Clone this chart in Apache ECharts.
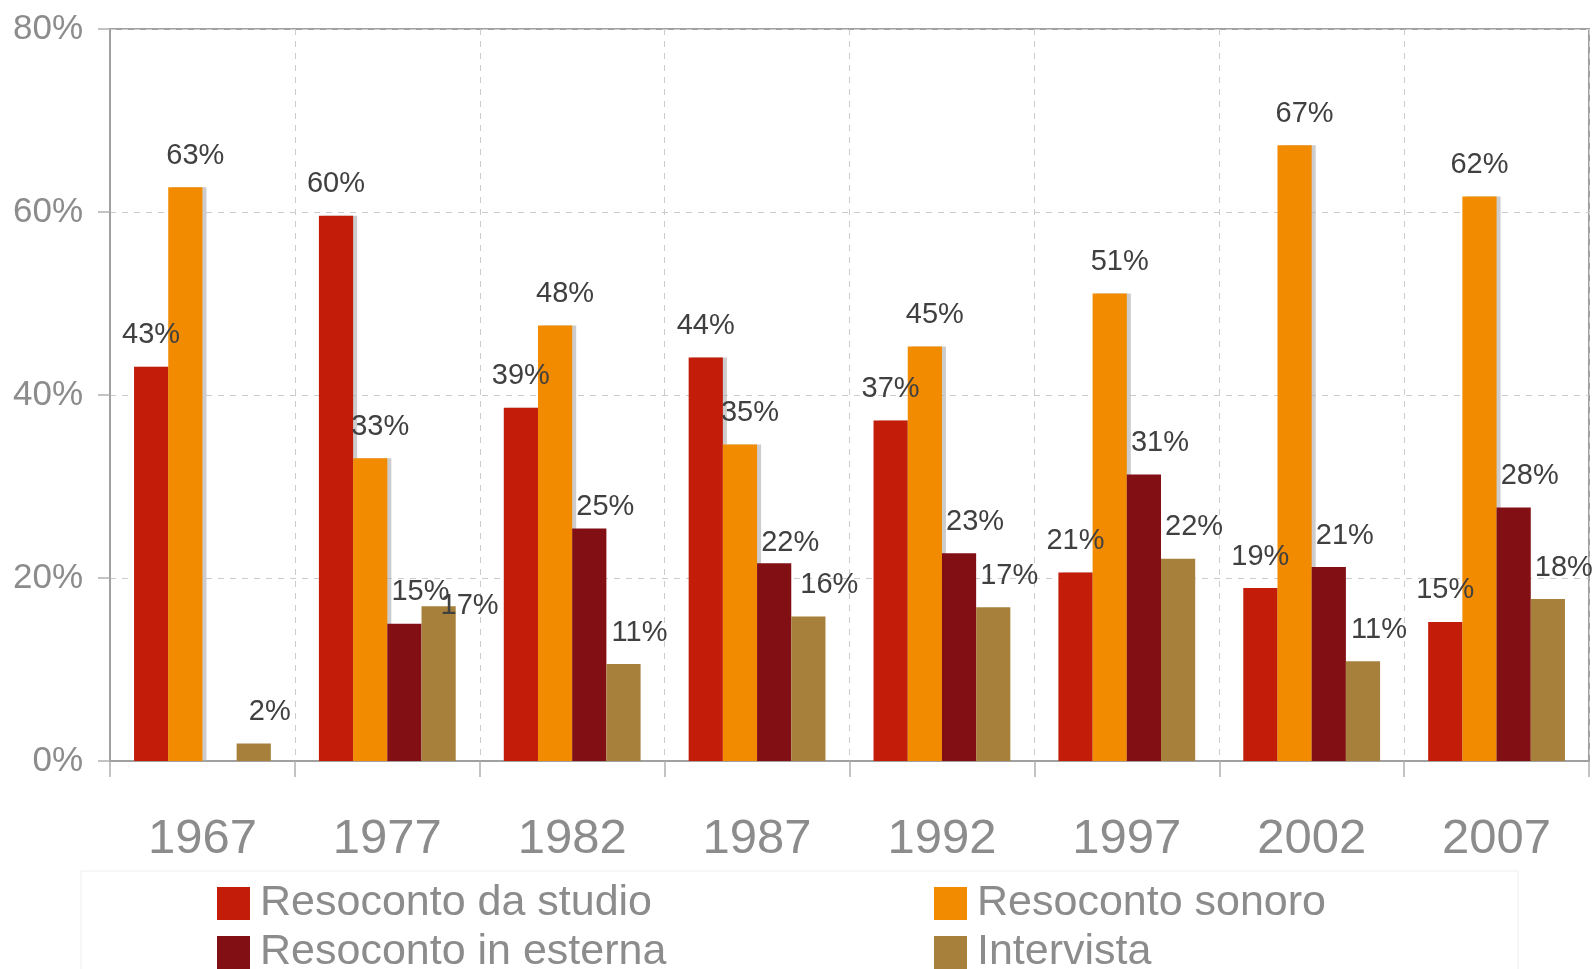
<!DOCTYPE html>
<html>
<head>
<meta charset="utf-8">
<script src="https://cdn.jsdelivr.net/npm/echarts@6/dist/echarts.min.js"></script>
<style>
html,body{margin:0;padding:0;background:#fff;}
#chart{width:1592px;height:969px;}
</style>
</head>
<body>
<div id="chart"></div>
<script>
// ---- data ----
const years = ['1967','1977','1982','1987','1992','1997','2002','2007'];
const seriesNames = ['Resoconto da studio','Resoconto sonoro','Resoconto in esterna','Intervista'];
const studio   = [43.1, 59.6, 38.6, 44.1, 37.2, 20.6, 18.9, 15.2];
const sonoro   = [62.7, 33.1, 47.6, 34.6, 45.3, 51.1, 67.3, 61.7];
const esterna  = [null, 15.0, 25.4, 21.6, 22.7, 31.3, 21.2, 27.7];
const intervista = [1.9, 16.9, 10.6, 15.8, 16.8, 22.1, 10.9, 17.7];
const yTicks = [0, 20, 40, 60, 80];

// ---- style ----
const colors = ['#C31D0A', '#F28B00', '#820F14', '#A7803B'];
const labelShift = [[0,0],[10,0],[16,0],[16,0]];
// individual label nudges: [seriesIndex, categoryIndex, dx, dy]
const labelNudges = [[3,1,15,31],[2,2,0,10],[2,3,0,11],[1,7,-10,0],[3,3,5,0]];
const shadowed = [true, true, false, false];
const font = "'Liberation Sans', Arial, sans-serif";
// legend placement per series: [left, top]
const legendPos = [[217, 882], [934, 882], [217, 931], [934, 931]];

const allValues = [studio, sonoro, esterna, intervista];

function buildData(si){
  return allValues[si].map((v, ci) => {
    const n = labelNudges.find(x => x[0] === si && x[1] === ci);
    if (v === null) return '-';
    if (!n) return v;
    return { value: v, label: { offset: [labelShift[si][0] + n[2], labelShift[si][1] + n[3]] } };
  });
}

const series = seriesNames.map((name, si) => ({
  name: name,
  type: 'bar',
  barGap: '0%',
  barCategoryGap: '26%',
  data: buildData(si),
  itemStyle: Object.assign({ color: colors[si] },
    shadowed[si] ? { shadowColor: 'rgba(170,170,170,0.6)', shadowOffsetX: 4, shadowOffsetY: 0, shadowBlur: 0 } : {}),
  label: {
    show: true,
    position: 'top',
    distance: 17,
    offset: labelShift[si],
    color: '#404040',
    fontFamily: font,
    fontSize: 29,
    formatter: p => Math.round(p.value) + '%'
  },
  emphasis: { disabled: true }
}));

const legends = seriesNames.map((name, si) => ({
  data: [name],
  left: legendPos[si][0], top: legendPos[si][1], padding: 0,
  itemWidth: 33, itemHeight: 33,
  icon: 'rect', selectedMode: false,
  textStyle: { color: '#8c8c8c', fontFamily: font, fontSize: 43, lineHeight: 33, height: 33, padding: [0,0,0,5] }
}));

const chart = echarts.init(document.getElementById('chart'));
chart.setOption({
  animation: false,
  backgroundColor: '#ffffff',
  grid: {
    left: 110, right: 3, top: 29, bottom: 208,
    show: true, borderColor: '#a0a0a0', borderWidth: 2, backgroundColor: 'transparent'
  },
  xAxis: {
    type: 'category',
    data: years,
    axisLine: { lineStyle: { color: '#a0a0a0', width: 2 } },
    axisTick: { show: true, length: 16, lineStyle: { color: '#b0b0b0', width: 1.5 } },
    axisLabel: { color: '#8c8c8c', fontFamily: font, fontSize: 49, margin: 54 },
    splitLine: { show: true, lineStyle: { color: '#cccccc', type: [6, 6], width: 1 } }
  },
  yAxis: {
    type: 'value',
    min: yTicks[0], max: yTicks[yTicks.length - 1], interval: 20,
    axisLine: { show: true, lineStyle: { color: '#a0a0a0', width: 2 } },
    axisTick: { show: true, length: 12, lineStyle: { color: '#b0b0b0', width: 1.5 } },
    axisLabel: { color: '#8c8c8c', fontFamily: font, fontSize: 35, margin: 27, formatter: '{value}%' },
    splitLine: { show: true, lineStyle: { color: '#cccccc', type: [6, 6], width: 1 } }
  },
  legend: legends,
  graphic: [{
    type: 'rect', z: -1,
    shape: { x: 81, y: 871, width: 1437, height: 120 },
    style: { fill: 'none', stroke: '#eeeeee', lineWidth: 1 }
  }],
  series: series
});
</script>
</body>
</html>
